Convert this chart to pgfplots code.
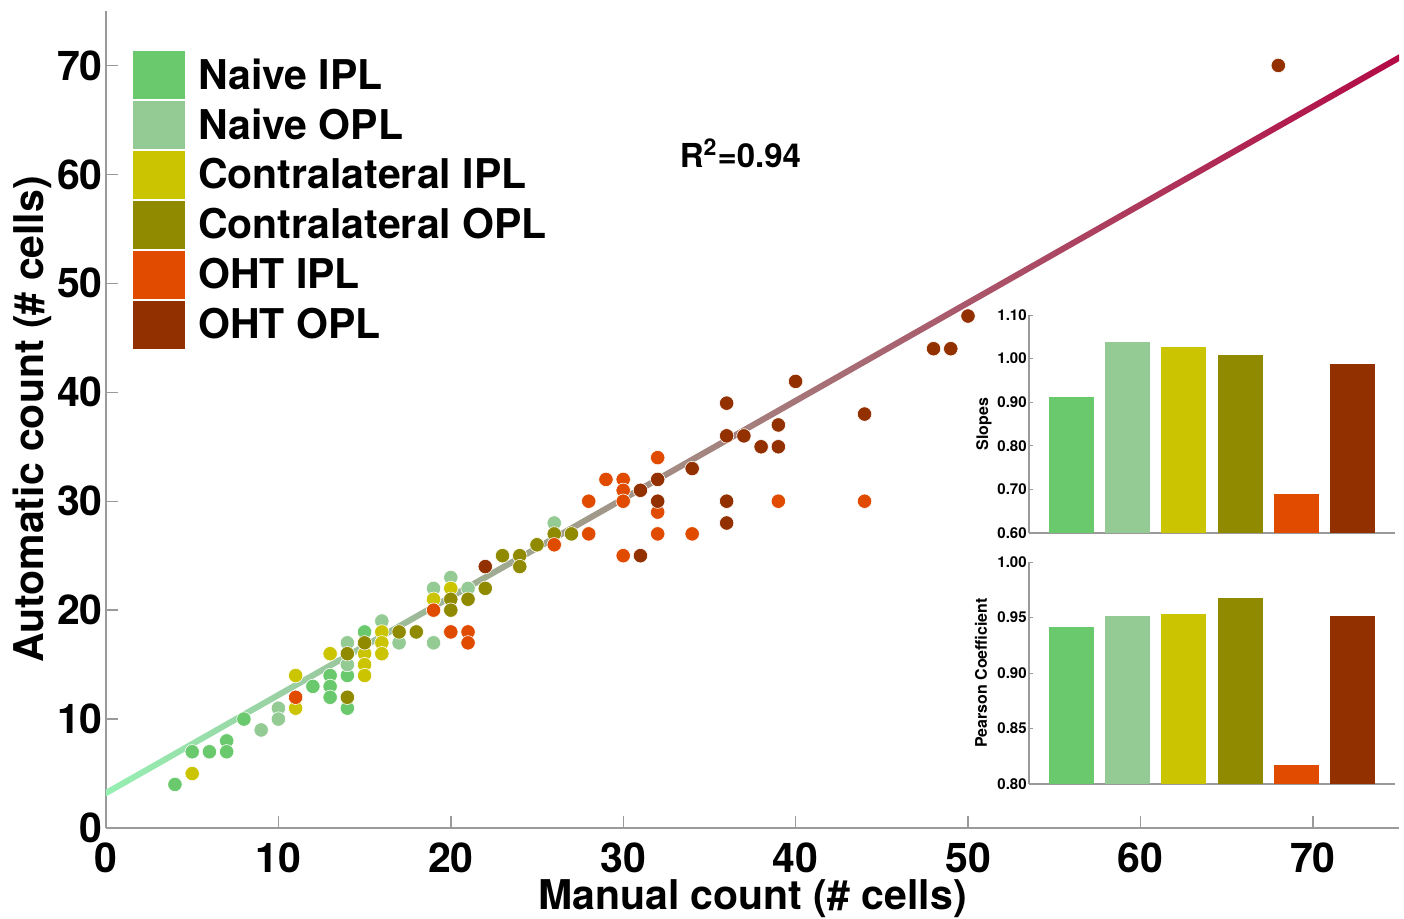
\documentclass[border=0pt]{standalone}
\usepackage{fontspec}
\setmainfont{TeX Gyre Heros}
\usepackage{pgfplots}
\pgfplotsset{compat=1.18}

\definecolor{ni}{HTML}{6AC96C}
\definecolor{no}{HTML}{94CA94}
\definecolor{ci}{HTML}{CBC400}
\definecolor{co}{HTML}{8F8A00}
\definecolor{hi}{HTML}{E04B00}
\definecolor{ho}{HTML}{933000}
\definecolor{fitA}{HTML}{96F0B2}
\definecolor{fitB}{HTML}{A8A08E}
\definecolor{fitC}{HTML}{B30A46}
\definecolor{axgray}{HTML}{9A9A9A}

\newcommand{\bigfont}{\bfseries\fontsize{20.5}{22}\selectfont}
\newcommand{\insetfont}{\bfseries\fontsize{8}{9}\selectfont}

\pgfplotsset{
  dots/.style={only marks, mark=*, mark size=3.6pt, color=#1,
    mark options={draw=white, line width=0.3pt}},
  inset/.style={
    scale only axis, width=183pt,
    xmin=0.25, xmax=6.75, xtick=\empty,
    axis x line*=bottom, axis y line*=left,
    axis line style={draw=axgray, line width=0.7pt},
    tick align=inside, major tick length=2pt, tick style={draw=axgray, line width=0.5pt},
    /pgf/number format/assume math mode=true,
    yticklabel style={font=\bfseries\fontsize{7.5}{8}\selectfont, inner sep=1pt,
      /pgf/number format/.cd, fixed, fixed zerofill, precision=2},
  },
  bar/.style={ybar, bar width=0.8, bar shift=0pt, fill=#1, draw=none},
}

\begin{document}
\begin{tikzpicture}
\path[use as bounding box] (0,0) rectangle (702pt,459pt);

\begin{axis}[
  at={(53pt,45pt)}, anchor=south west,
  scale only axis, width=646.5pt, height=408.5pt,
  xmin=0, xmax=75, ymin=0, ymax=75,
  axis x line*=bottom, axis y line*=left,
  axis line style={draw=axgray, line width=1pt},
  xtick={0,10,...,70}, ytick={0,10,...,70},
  tick align=inside, major tick length=6pt, tick style={draw=axgray, line width=0.7pt},
  /pgf/number format/assume math mode=true,
  ticklabel style={font=\bigfont},
  yticklabel style={inner sep=1.5pt},
  xticklabel style={inner sep=0pt, yshift=-7pt},
  xlabel={Manual count (\# cells)},
  ylabel={Automatic count (\# cells)},
  every axis x label/.style={at={(axis description cs:0.5,-0.1)}, anchor=base, font=\bigfont, inner sep=0pt},
  every axis y label/.style={at={(axis description cs:-0.0487,0.5)}, rotate=90, anchor=base, font=\bigfont, inner sep=0pt},
  legend cell align=left,
  legend style={at={(axis description cs:0.0201,0.952)}, anchor=north west,
    draw=none, fill=none, inner sep=0pt, outer sep=0pt, row sep=0pt, column sep=5pt,
    font=\bigfont, nodes={inner sep=1pt}},
  legend image code/.code={\filldraw[draw=white, line width=0.6pt] (0pt,-12.2pt) rectangle (26.5pt,12.2pt);},
]
% Naive IPL
\addplot[dots=ni] coordinates {
  (4,4) (5,7) (6,7) (7,8) (7,7) (8,10) (12,13) (13,14) (13,13) (13,12)
  (14,14) (14,11) (15,18)
};
\addlegendentry{Naive IPL}
% Naive OPL
\addplot[dots=no] coordinates {
  (9,9) (10,11) (10,10) (14,17) (14,15) (16,19) (17,17) (19,22) (19,17)
  (20,23) (21,22) (26,28)
};
\addlegendentry{Naive OPL}
% Contralateral IPL
\addplot[dots=ci] coordinates {
  (5,5) (11,14) (11,11) (13,16) (15,16) (15,15) (15,14) (16,18) (16,17)
  (16,16) (19,21) (20,22)
};
\addlegendentry{Contralateral IPL}
% Contralateral OPL
\addplot[dots=co] coordinates {
  (14,16) (14,12) (15,17) (17,18) (18,18) (20,21) (20,20) (21,21) (22,22)
  (23,25) (24,25) (24,24) (25,26) (26,27) (27,27)
};
\addlegendentry{Contralateral OPL}
% OHT IPL
\addplot[dots=hi] coordinates {
  (11,12) (19,20) (20,18) (21,18) (21,17) (26,26) (28,30) (28,27) (29,32)
  (30,32) (30,31) (30,30) (30,25) (32,34) (32,29) (32,27) (34,27) (39,30) (44,30)
};
\addlegendentry{OHT IPL}
% OHT OPL
\addplot[dots=ho] coordinates {
  (22,24) (31,31) (31,25) (32,32) (32,30) (34,33) (36,39) (36,36) (36,30)
  (36,28) (37,36) (38,35) (39,37) (39,35) (40,41) (44,38) (48,44) (49,44)
  (50,47) (68,70)
};
\addlegendentry{OHT OPL}
% fit line y = 3.21 + 0.9x, drawn as a thin shaded band
\addplot[forget plot, draw=none, left color=fitA, middle color=fitB, right color=fitC]
  coordinates {(0,2.89) (75,70.39) (75,71.03) (0,3.53)};
\node[font=\bfseries\fontsize{16.5}{18}\selectfont, anchor=base] at (axis cs:36.8,60.6)
  {R\textsuperscript{2}=0.94};
\end{axis}

% slopes inset
\begin{axis}[inset, at={(514.5pt,192.5pt)}, anchor=south west, height=109pt,
  ymin=0.6, ymax=1.1, ytick={0.6,0.7,...,1.1}, ylabel={Slopes},
  every axis y label/.style={at={(axis description cs:-0.112,0.5)}, rotate=90, anchor=base, font=\insetfont}]
\addplot[bar=ni] coordinates {(1,0.911)};
\addplot[bar=no] coordinates {(2,1.037)};
\addplot[bar=ci] coordinates {(3,1.027)};
\addplot[bar=co] coordinates {(4,1.008)};
\addplot[bar=hi] coordinates {(5,0.689)};
\addplot[bar=ho] coordinates {(6,0.987)};
\end{axis}

% Pearson inset
\begin{axis}[inset, at={(514.5pt,67pt)}, anchor=south west, height=111pt,
  ymin=0.8, ymax=1.0, ytick={0.8,0.85,...,1.0}, ylabel={Pearson Coefficient},
  every axis y label/.style={at={(axis description cs:-0.115,0.5)}, rotate=90, anchor=base, font=\insetfont}]
\addplot[bar=ni] coordinates {(1,0.941)};
\addplot[bar=no] coordinates {(2,0.951)};
\addplot[bar=ci] coordinates {(3,0.953)};
\addplot[bar=co] coordinates {(4,0.968)};
\addplot[bar=hi] coordinates {(5,0.817)};
\addplot[bar=ho] coordinates {(6,0.951)};
\end{axis}
\end{tikzpicture}
\end{document}
